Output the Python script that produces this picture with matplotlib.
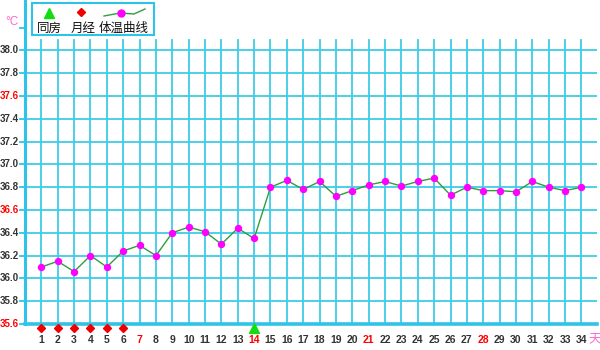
import matplotlib
matplotlib.use("Agg")
import matplotlib.pyplot as plt
import numpy as np

plt.rcParams['font.family'] = ['Liberation Sans', 'Noto Sans CJK SC', 'DejaVu Sans']

days = list(range(1, 35))
temps = [36.10, 36.15, 36.06, 36.20, 36.10, 36.24, 36.29, 36.20, 36.40, 36.45,
         36.41, 36.30, 36.44, 36.35, 36.80, 36.86, 36.78, 36.85, 36.72, 36.77,
         36.82, 36.85, 36.81, 36.85, 36.88, 36.73, 36.80, 36.77, 36.77, 36.76,
         36.85, 36.80, 36.77, 36.80]
period_days = [1, 2, 3, 4, 5, 6]
intercourse_days = [14]
red_day_labels = [7, 14, 21, 28]
y_ticks = [35.6, 35.8, 36.0, 36.2, 36.4, 36.6, 36.8, 37.0, 37.2, 37.4, 37.6, 37.8, 38.0]
red_y_labels = [35.6, 36.6, 37.6]
legend_labels = ["同房", "月经", "体温曲线"]

GRID = '#3FCBE8'
AXC = '#2EC3E8'
W, H = 600, 350
fig = plt.figure(figsize=(6, 3.5), dpi=100)
x0, x1, ybot, ytop = 25, 597, 324, 0
ax = fig.add_axes([x0 / W, (H - ybot) / H, (x1 - x0) / W, (ybot - ytop) / H])
ymin = 35.6
ymax = 35.6 + (ybot - ytop) / 22.8 * 0.2
ax.set_xlim(0, 34.95)
ax.set_ylim(ymin, ymax)
for s in ax.spines.values():
    s.set_visible(False)
ax.set_xticks([])
ax.set_yticks([])

grid_top = 38.0 + 10 / 22.8 * 0.2
for d in days:
    ax.plot([d, d], [ymin, grid_top], color=GRID, lw=1.3, zorder=1)
for v in y_ticks[1:]:
    ax.plot([0, 34.95], [v, v], color=GRID, lw=1.3, zorder=1)
# axes lines
ax.plot([0, 34.95], [ymin, ymin], color=AXC, lw=2.6, zorder=2, clip_on=False)
ax.plot([0, 0], [ymin, ymax], color=AXC, lw=2.2, zorder=2, clip_on=False)

ax.plot(days, temps, color='#2E9E3E', lw=1.0, zorder=3)
ax.plot(days, temps, 'o', color='#FF00FF', ms=4.3, mec='#FF00FF', zorder=4, lw=0)

below = 35.6 - 4.5 / 22.8 * 0.2
ax.plot(period_days, [below] * len(period_days), 'D', color='#EE0000', ms=4.3, clip_on=False, zorder=5)
ax.plot(intercourse_days, [below + 0.004] * len(intercourse_days), '^', color='#11DD11', ms=6.5, clip_on=False, zorder=5)

# y tick labels and marks
for v in y_ticks:
    col = '#FF0000' if v in red_y_labels else '#333333'
    ax.plot([-0.3, 0], [v, v], color=AXC, lw=1.3, clip_on=False)
    ax.text(-0.36, v, f"{v:.1f}", ha='right', va='center', fontsize=7,
            fontweight='bold', color=col, clip_on=False)
# x tick labels
xl_y = 35.6 - 16 / 22.8 * 0.2
for d in days:
    col = '#FF0000' if d in red_day_labels else '#333333'
    ax.text(d, xl_y, str(d), ha='center', va='center', fontsize=7.5,
            fontweight='bold', color=col, clip_on=False)

# overlay in pixel coords
ov = fig.add_axes([0, 0, 1, 1], facecolor='none')
ov.set_xlim(0, W)
ov.set_ylim(H, 0)
ov.axis('off')
ov.plot([20, 25], [28, 28], color=AXC, lw=1.3)
ov.text(5, 22, "°C", fontsize=8.5, color='#FF66CC', ha='left', va='center')
ov.text(588, 340, "天", fontsize=9, color='#FF66CC', ha='left', va='center',
        family=['Noto Sans CJK SC'])
# legend box
ov.add_patch(plt.Rectangle((32, 3), 122, 32, fill=False, ec=AXC, lw=1.5))
ov.plot([49], [13], '^', color='#11DD11', ms=6.5)
ov.plot([81], [12], 'D', color='#EE0000', ms=4.5)
ov.plot([104, 120, 134, 145], [16, 13, 14, 9], color='#2E9E3E', lw=1.0)
ov.plot([121], [13], 'o', color='#FF00FF', ms=5)
for xx, lab in zip([49, 83, 124], legend_labels):
    ov.text(xx, 28, lab, fontsize=9, ha='center', va='center', color='#111111',
            family=['Noto Sans CJK SC'])

fig.savefig("out.png", dpi=100, facecolor='white')
